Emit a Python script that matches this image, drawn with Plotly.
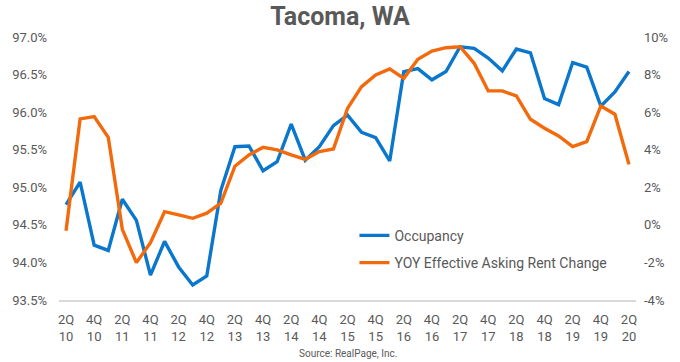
import plotly.graph_objects as go

quarters = ["2Q10","3Q10","4Q10","1Q11","2Q11","3Q11","4Q11","1Q12","2Q12","3Q12","4Q12",
            "1Q13","2Q13","3Q13","4Q13","1Q14","2Q14","3Q14","4Q14","1Q15","2Q15","3Q15","4Q15",
            "1Q16","2Q16","3Q16","4Q16","1Q17","2Q17","3Q17","4Q17","1Q18","2Q18","3Q18","4Q18",
            "1Q19","2Q19","3Q19","4Q19","1Q20","2Q20"]

occupancy = [94.77, 95.07, 94.23, 94.16, 94.84, 94.56, 93.83, 94.28, 93.94, 93.70, 93.82,
             94.96, 95.54, 95.55, 95.22, 95.34, 95.84, 95.36, 95.54, 95.82, 95.96, 95.73, 95.66,
             95.35, 96.54, 96.58, 96.43, 96.54, 96.87, 96.85, 96.72, 96.55, 96.84, 96.79, 96.18,
             96.10, 96.66, 96.60, 96.08, 96.27, 96.54]

rent_change = [-0.31, 5.64, 5.76, 4.66, -0.24, -2.01, -0.95, 0.70, 0.53, 0.35, 0.62,
               1.15, 3.12, 3.72, 4.13, 3.99, 3.72, 3.49, 3.90, 4.04, 6.20, 7.36, 7.98,
               8.30, 7.80, 8.81, 9.25, 9.43, 9.48, 8.60, 7.13, 7.13, 6.86, 5.62, 5.14,
               4.73, 4.16, 4.43, 6.33, 5.89, 3.22]

left_ticks = [93.5, 94.0, 94.5, 95.0, 95.5, 96.0, 96.5, 97.0]
right_ticks = [-4, -2, 0, 2, 4, 6, 8, 10]

idx = list(range(len(quarters)))
tick_idx = idx[::2]
tick_text = [q[:2] + "<br>" + q[2:] for q in quarters[::2]]

grey = "#595959"
font_family = "Roboto, Arial, sans-serif"

fig = go.Figure()
fig.add_trace(go.Scatter(x=idx, y=occupancy, name="Occupancy", mode="lines",
                         line=dict(color="#0A77CC", width=3.4), yaxis="y", legendgroup="a"))
fig.add_trace(go.Scatter(x=idx, y=rent_change, name="YOY Effective Asking Rent Change", mode="lines",
                         line=dict(color="#F26A0C", width=3.4), yaxis="y2", legendgroup="b"))

fig.update_layout(
    width=680, height=362,
    margin=dict(l=58, r=36, t=37, b=62),
    paper_bgcolor="white", plot_bgcolor="white",
    font=dict(family=font_family, color=grey, size=13),
    title=dict(text="<b>Tacoma, WA</b>", x=0.5, xanchor="center", y=0.955, yanchor="middle",
               font=dict(size=25, color=grey, family=font_family)),
    xaxis=dict(range=[-0.5, len(quarters) - 0.5], tickmode="array", tickvals=tick_idx,
               ticktext=tick_text, showgrid=False, zeroline=False, showline=True,
               linecolor="#D9D9D9", linewidth=1.5, ticks="", ticklabelstandoff=7,
               tickfont=dict(size=13, color=grey)),
    yaxis=dict(range=[93.5, 97.0], tickmode="array", tickvals=left_ticks,
               ticktext=[f"{v:.1f}%" for v in left_ticks], showgrid=False, zeroline=False,
               showline=False, ticks="", ticklabelstandoff=11, tickfont=dict(size=13, color=grey)),
    yaxis2=dict(range=[-4, 10], tickmode="array", tickvals=right_ticks,
                ticktext=[f"{v}%" for v in right_ticks], overlaying="y", side="right",
                showgrid=False, zeroline=False, showline=False, ticks="", ticklabelstandoff=7,
                tickfont=dict(size=13, color=grey)),
    legend=dict(x=0.512, y=0.305, xanchor="left", yanchor="top", bgcolor="rgba(0,0,0,0)",
                font=dict(size=14, color=grey), traceorder="grouped", tracegroupgap=6,
                itemwidth=30),
    showlegend=True,
    annotations=[dict(text="Source: RealPage, Inc.", x=0.5, xref="paper", y=-0.205, yref="paper",
                      yanchor="middle", showarrow=False, font=dict(size=10, color=grey))],
)

fig.write_html("out.html", config={"displayModeBar": False},
               post_script="document.body.style.margin='0';document.body.style.padding='0';")
